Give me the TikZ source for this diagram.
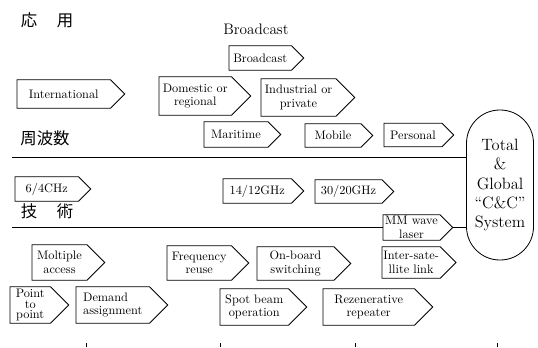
\documentclass[tikz,border=0pt]{standalone}
\usepackage{fontspec}
\newfontfamily\jpfont{Noto Sans CJK JP}
\usetikzlibrary{calc}
\newcommand\pxu{0.03cm}
\begin{document}
\begin{tikzpicture}[x=0.03cm,y=-0.03cm,
  arrbox/.style={inner sep=1pt,anchor=west,align=center,font=\fontsize{10.5}{11.5}\selectfont},
  jp/.style={font=\jpfont\fontsize{14}{14}\selectfont}]
\useasboundingbox (0,0) rectangle (538,348);
% headings
\node[jp] (app) at (47,20) {応\hspace{1.2em}用};
\node[jp] (freq) at (45,138) {周波数};
\node[jp] (tech) at (47,211) {技\hspace{1.2em}術};
\node[font=\fontsize{13}{15}\selectfont] (bctitle) at (256,29) {Broadcast};
% applications
\node[arrbox,minimum width=62*\pxu,minimum height=24*\pxu] (bc) at (229,58) {Broadcast};
\node[arrbox,minimum width=93*\pxu,minimum height=28*\pxu] (intl) at (17,94) {International};
\node[arrbox,minimum width=72*\pxu,minimum height=38*\pxu] (dom) at (159,96) {Domestic or\\regional};
\node[arrbox,minimum width=74.5*\pxu,minimum height=37*\pxu] (ind) at (261,97.5) {Industrial or\\private};
\node[arrbox,minimum width=63.5*\pxu,minimum height=25*\pxu] (mar) at (204,134.5) {Maritime};
\node[arrbox,minimum width=55.5*\pxu,minimum height=23*\pxu] (mob) at (305,135.5) {Mobile};
\node[arrbox,minimum width=57.5*\pxu,minimum height=23*\pxu] (pers) at (384,135) {Personal};
% frequencies
\node[arrbox,minimum width=63*\pxu,minimum height=24*\pxu] (f64) at (15,189) {6/4CHz};
\node[arrbox,minimum width=68*\pxu,minimum height=24*\pxu] (f1412) at (223,191) {14/12GHz};
\node[arrbox,minimum width=66.5*\pxu,minimum height=23*\pxu] (f3020) at (315,191.5) {30/20GHz};
\node[arrbox,minimum width=56.5*\pxu,minimum height=25*\pxu] (mm) at (383,227.5) {MM wave\\laser};
% techniques
\node[arrbox,minimum width=56*\pxu,minimum height=31*\pxu] (isl) at (382,262.5) {Inter-sate-\\llite link};
\node[arrbox,minimum width=54.5*\pxu,minimum height=35*\pxu] (mult) at (32,262.5) {Moltiple\\access};
\node[arrbox,minimum width=64*\pxu,minimum height=34*\pxu] (reuse) at (167,263) {Frequency\\reuse};
\node[arrbox,minimum width=76.5*\pxu,minimum height=33*\pxu] (obs) at (257,263.5) {On-board\\switching};
\node[arrbox,minimum width=40*\pxu,minimum height=36*\pxu,font=\fontsize{10.5}{9}\selectfont] (ptp) at (10,305) {Point\\to\\point};
\node[arrbox,minimum width=73*\pxu,minimum height=36*\pxu,align=left] (dama) at (76,305) {Demand\\assignment};
\node[arrbox,minimum width=68*\pxu,minimum height=36*\pxu] (spot) at (220,307) {Spot beam\\operation};
\node[arrbox,minimum width=91*\pxu,minimum height=36*\pxu] (regen) at (323,307) {Rezenerative\\repeater};
% pointed outlines
\foreach \b in {bc,intl,dom,ind,mar,mob,pers,f64,f1412,f3020,mm,isl,mult,reuse,obs,ptp,dama,spot,regen}
  \draw[line width=0.7pt,line join=miter] let \p1=(\b.north east), \p2=(\b.east), \n1={\y1-\y2} in
    (\b.north west) -- (\p1) -- ([xshift=\n1]\b.east) -- (\b.south east) -- (\b.south west) -- cycle;
% goal
\node[draw,line width=0.7pt,rounded corners=1cm,minimum width=67*\pxu,minimum height=150*\pxu,
  align=center,font=\fontsize{14}{16.5}\selectfont] (total) at (500,185)
  {Total\\\&\\Global\\``C\&C''\\System};
% separating lines
\coordinate (l1) at (12,157);
\coordinate (l2) at (12,227);
\draw[line width=0.8pt] (l1) -- (l1 -| total.west);
\draw[line width=0.8pt] (l2) -- (l2 -| mm.west);
\draw[line width=0.8pt] (mm.east) ++(12.5,0) -- (mm.east -| total.west);
% marks at the foot
\foreach \tx in {86,220,355,497}
  \draw[line width=0.6pt] (\tx,343) -- (\tx,347);
\end{tikzpicture}
\end{document}
